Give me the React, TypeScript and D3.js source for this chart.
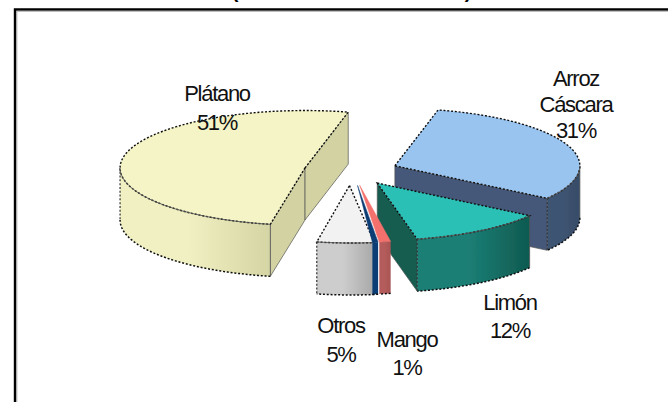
import React from "react";
import * as d3 from "d3";

const sliceNames = ["Arroz Cáscara", "Limón", "Mango", "", "Otros", "Plátano"];
const sliceValues = [31, 12, 1, 0.5, 5, 51];
const labelLines = [["Arroz", "Cáscara", "31%"], ["Limón", "12%"], ["Mango", "1%"], [], ["Otros", "5%"], ["Plátano", "51%"]];
const labelX = [576, 510, 407, 0, 341, 217];
const labelY = [86, 310, 347, 0, 333, 101];
const labelGap = [26, 28, 28, 0, 29, 29];
const rimNudge = [0, 0, -9, -8, 2, 0];
const topColors = ["#99c4f0", "#2cc0b6", "#f4706c", "#0d3c74", "#f2f2f2", "#f4f4c6"];
const outerColorsA = ["#3d5472", "#1b7f76", "#b45c5c", "#0d3c74", "#cdcdcd", "#f0f0c2"];
const outerColorsB = ["#384c68", "#0f5a50", "#a85454", "#0d3c74", "#a8a8a8", "#d4d4a4"];
const radialColors = ["#45597a", "#125c50", "#a85454", "#0d3c74", "#aaaaaa", "#d2d2a2"];
const drawOrder = [5, 0, 1, 4, 3, 2];

const W = 668, H = 402;
const rx = 185, ry = 57.4, depth = 52, explode = 47;
const cx = 351, cy = 171;
const rad = (d: number) => (d * Math.PI) / 180;
const startDeg = 13.5;

const pieGen = d3.pie<number>().sort(null).startAngle(rad(startDeg)).endAngle(rad(startDeg + 360));
const arcs = pieGen(sliceValues);
const line = d3.line<[number, number]>();

const sx = d3.scaleLinear().domain([-1, 1]).range([-rx, rx]);
const sy = d3.scaleLinear().domain([-1, 1]).range([ry, -ry]);

function apexOf(a: d3.PieArcDatum<number>): [number, number] {
  const mid = (a.startAngle + a.endAngle) / 2;
  return [cx + (explode / rx) * sx(Math.sin(mid)), cy + (explode / rx) * sy(Math.cos(mid))];
}
function rim(ap: [number, number], t: number, dz = 0): [number, number] {
  return [ap[0] + sx(Math.sin(t)), ap[1] + sy(Math.cos(t)) + dz];
}
function rimPts(ap: [number, number], t0: number, t1: number, dz = 0) {
  const n = Math.max(2, Math.ceil(Math.abs(t1 - t0) / rad(2)));
  return d3.range(n + 1).map((i) => rim(ap, t0 + ((t1 - t0) * i) / n, dz));
}
const down = (p: [number, number]): [number, number] => [p[0], p[1] + depth];

function Slice({ i }: { i: number }) {
  const a = arcs[i];
  const ap = apexOf(a);
  const base: [number, number] = [ap[0] + rimNudge[i], ap[1]];
  const s = a.startAngle, e = a.endAngle;
  const topPts = [ap, ...rimPts(base, s, e)];
  const w0 = Math.max(s, rad(90)), w1 = Math.min(e, rad(270));
  const hasOuter = w1 > w0;
  const outer = hasOuter ? rimPts(base, w0, w1) : [];
  const walls: [number, number][][] = [];
  const thin = e - s < rad(10);
  if (!thin && Math.sin(s) < 0) walls.push([ap, rim(base, s), down(rim(base, s)), down(ap)]);
  if (!thin && Math.sin(e) > 0) walls.push([ap, rim(base, e), down(rim(base, e)), down(ap)]);
  return (
    <g>
      {walls.map((w, k) => (
        <path key={k} d={line(w) + "Z"} fill={radialColors[i]} stroke="#555" strokeWidth={0.7} />
      ))}
      {hasOuter && (
        <>
          <path
            d={line([...outer, ...outer.map(down).reverse()]) + "Z"}
            fill={`url(#wall${i})`}
          />
          <path d={line(outer.map(down)) ?? ""} fill="none" stroke="#111" strokeWidth={1.5} strokeDasharray="2 1.8" />
          {!thin && <path d={line([outer[0], down(outer[0])]) ?? ""} fill="none" stroke="#555" strokeWidth={0.8} />}
          {!thin && <path d={line([outer[outer.length - 1], down(outer[outer.length - 1])]) ?? ""} fill="none" stroke="#333" strokeWidth={1.2} strokeDasharray="2 1.8" />}
        </>
      )}
      <path
        d={line(topPts) + "Z"}
        fill={topColors[i]}
        stroke={thin ? topColors[i] : "#111"}
        strokeWidth={thin ? 0.5 : 1.4}
        strokeDasharray={thin ? undefined : "2 1.8"}
      />
      {hasOuter && !thin && <path d={line(outer) ?? ""} fill="none" stroke="#555" strokeWidth={0.9} />}
    </g>
  );
}

export default function App() {
  return (
    <svg width={W} height={H} viewBox={`0 0 ${W} ${H}`} style={{ position: "absolute", left: 0, top: 0, background: "#fff" }} fontFamily="'Liberation Sans', Arial, sans-serif">
      <defs>
        <filter id="soft" x="-5%" y="-5%" width="110%" height="110%">
          <feGaussianBlur stdDeviation="0.35" />
        </filter>
        {arcs.map((_, i) => (
          <linearGradient key={i} id={`wall${i}`} x1="0" x2="1" y1="0" y2="0">
            <stop offset="0.45" stopColor={outerColorsA[i]} />
            <stop offset="1" stopColor={outerColorsB[i]} />
          </linearGradient>
        ))}
      </defs>
      <text x={235} y={-2} fontSize={20} fontWeight="bold" textAnchor="middle">(</text>
      <text x={468} y={-2} fontSize={20} fontWeight="bold" textAnchor="middle">)</text>
      <path d={`M15,${H}V9.5H${W}`} fill="none" stroke="#000" strokeWidth={2.4} />
      <path d={`M16.8,${H}V11.2H${W}`} fill="none" stroke="#999" strokeWidth={0.9} />
      <g filter="url(#soft)">
        {drawOrder.map((i) => (
          <Slice key={sliceNames[i] + i} i={i} />
        ))}
      </g>
      {labelLines.map((lines, i) =>
        lines.map((t, k) => (
          <text key={i + "-" + k} x={labelX[i]} y={labelY[i] + k * labelGap[i]} fontSize={22} letterSpacing={-1.3} textAnchor="middle" fill="#111">
            {t}
          </text>
        ))
      )}
    </svg>
  );
}
